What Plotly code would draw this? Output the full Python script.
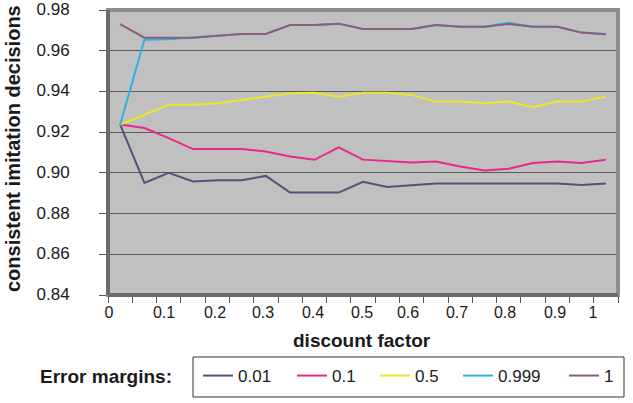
import plotly.graph_objects as go

# ---- data ----
discount = [0.0, 0.05, 0.1, 0.15, 0.2, 0.25, 0.3, 0.35, 0.4, 0.45, 0.5,
            0.55, 0.6, 0.65, 0.7, 0.75, 0.8, 0.85, 0.9, 0.95, 1.0]
series_names = ["0.01", "0.1", "0.5", "0.999", "1"]
em_001 = [0.9237, 0.8951, 0.9000, 0.8958, 0.8964, 0.8964, 0.8985, 0.8903, 0.8903, 0.8903, 0.8956,
          0.8931, 0.8939, 0.8948, 0.8948, 0.8948, 0.8948, 0.8948, 0.8948, 0.8940, 0.8948]
em_01 = [0.9237, 0.9220, 0.9171, 0.9117, 0.9117, 0.9117, 0.9105, 0.9080, 0.9064, 0.9125, 0.9065,
         0.9059, 0.9051, 0.9056, 0.9031, 0.9012, 0.9020, 0.9048, 0.9056, 0.9048, 0.9064]
em_05 = [0.9237, 0.9285, 0.9334, 0.9334, 0.9342, 0.9358, 0.9374, 0.9391, 0.9394, 0.9374, 0.9394,
         0.9394, 0.9383, 0.9350, 0.9350, 0.9342, 0.9350, 0.9322, 0.9350, 0.9350, 0.9374]
em_0999 = [0.9237, 0.9654, 0.9656, 0.9664, 0.9674, 0.9682, 0.9682, 0.9726, 0.9726, 0.9733, 0.9707,
           0.9707, 0.9707, 0.9726, 0.9718, 0.9718, 0.9737, 0.9718, 0.9718, 0.9689, 0.9681]
em_1 = [0.9731, 0.9664, 0.9664, 0.9664, 0.9674, 0.9682, 0.9682, 0.9726, 0.9726, 0.9733, 0.9707,
        0.9707, 0.9707, 0.9726, 0.9718, 0.9718, 0.9731, 0.9718, 0.9718, 0.9689, 0.9681]
x_tick_labels = ["0", "0.1", "0.2", "0.3", "0.4", "0.5", "0.6", "0.7", "0.8", "0.9", "1"]
y_ticks = [0.84, 0.86, 0.88, 0.90, 0.92, 0.94, 0.96, 0.98]

# ---- layout geometry (pixels) ----
W, H = 633, 403
L, R, T, B = 108, 15, 10, 108
PW, PH = W - L - R, H - T - B
X0, X1 = -0.025, 1.025

def px_x(p):
    return (p - L) / PW

def px_y(p):
    return (H - B - p) / PH

def px_to_val(p):
    return X0 + (p - L) / PW * (X1 - X0)

label_px = [109, 164, 215, 263, 313, 362, 408, 457, 505, 555, 593]
label_pos = [px_to_val(p) for p in label_px]
boundaries = [X0 + 0.05 * k for k in range(22)]

colors = ["#52527a", "#e8288c", "#eee626", "#2cb2e6", "#8e5c7c"]
values = [em_001, em_01, em_05, em_0999, em_1]
legend_ids = ["legend", "legend2", "legend3", "legend4", "legend5"]
legend_line_px = [202, 296, 379, 462, 568]

font = "Liberation Sans, Arial, sans-serif"

fig = go.Figure()
for name, vals, col, lid in zip(series_names, values, colors, legend_ids):
    fig.add_trace(go.Scatter(x=discount, y=vals, mode="lines", name=name, legend=lid,
                             line=dict(color=col, width=2)))

legend_layout = {}
for lid, lp in zip(legend_ids, legend_line_px):
    legend_layout[lid] = dict(orientation="h", x=px_x(lp - 4), y=px_y(376),
                              xanchor="left", yanchor="middle",
                              bgcolor="rgba(0,0,0,0)", borderwidth=0,
                              font=dict(size=17, color="#222"))

fig.update_layout(
    width=W, height=H,
    margin=dict(l=L, r=R, t=T, b=B, pad=0, autoexpand=False),
    paper_bgcolor="white",
    plot_bgcolor="#c0c0c0",
    font=dict(family=font, size=16, color="#1a1a1a"),
    showlegend=True,
    **legend_layout,
)

fig.update_xaxes(range=[X0, X1], tickvals=label_pos, ticktext=x_tick_labels,
                 ticks="outside", ticklen=3, tickcolor="rgba(0,0,0,0)",
                 tickfont=dict(size=16, color="#1a1a1a"), automargin=False,
                 ticklabeloverflow="allow",
                 showgrid=False, zeroline=False, showline=False,
                 minor=dict(tickvals=boundaries, ticks="outside", ticklen=7,
                            tickcolor="#555555", tickwidth=1, showgrid=False))
fig.update_yaxes(range=[0.84, 0.98], tickvals=y_ticks, tickformat=".2f",
                 ticks="outside", ticklen=8, tickcolor="#555555",
                 ticklabelstandoff=26, ticklabelshift=-1, automargin=False,
                 ticklabeloverflow="allow",
                 tickfont=dict(size=17, color="#1a1a1a"),
                 showgrid=True, gridcolor="#5a5a5a", gridwidth=1,
                 zeroline=False, showline=False)

# plot-area border (Excel style)
fig.add_shape(type="rect", xref="paper", yref="paper", x0=0, x1=1, y0=0, y1=1,
              line=dict(color="#8e8e8e", width=4), layer="above")
fig.add_shape(type="line", xref="paper", yref="paper", x0=0, x1=0, y0=0, y1=1,
              line=dict(color="#6c6c6c", width=4), layer="above")
fig.add_shape(type="line", xref="paper", yref="paper", x0=0, x1=1, y0=0, y1=0,
              line=dict(color="#6c6c6c", width=4), layer="above")

# legend box
fig.add_shape(type="rect", xref="paper", yref="paper",
              x0=px_x(193), x1=px_x(624), y0=px_y(397), y1=px_y(357),
              line=dict(color="#333333", width=1), fillcolor="rgba(0,0,0,0)")

fig.add_annotation(text="<b>consistent imitation decisions</b>", textangle=-90,
                   xref="paper", yref="paper", x=px_x(13), y=px_y(149),
                   xanchor="center", yanchor="middle", showarrow=False,
                   font=dict(size=20, color="#1a1a1a"))
fig.add_annotation(text="<b>discount factor</b>",
                   xref="paper", yref="paper", x=px_x(362), y=px_y(340),
                   xanchor="center", yanchor="middle", showarrow=False,
                   font=dict(size=19, color="#1a1a1a"))
fig.add_annotation(text="<b>Error margins:</b>",
                   xref="paper", yref="paper", x=px_x(106), y=px_y(376),
                   xanchor="center", yanchor="middle", showarrow=False,
                   font=dict(size=19, color="#1a1a1a"))

fig.write_html("out.html")
